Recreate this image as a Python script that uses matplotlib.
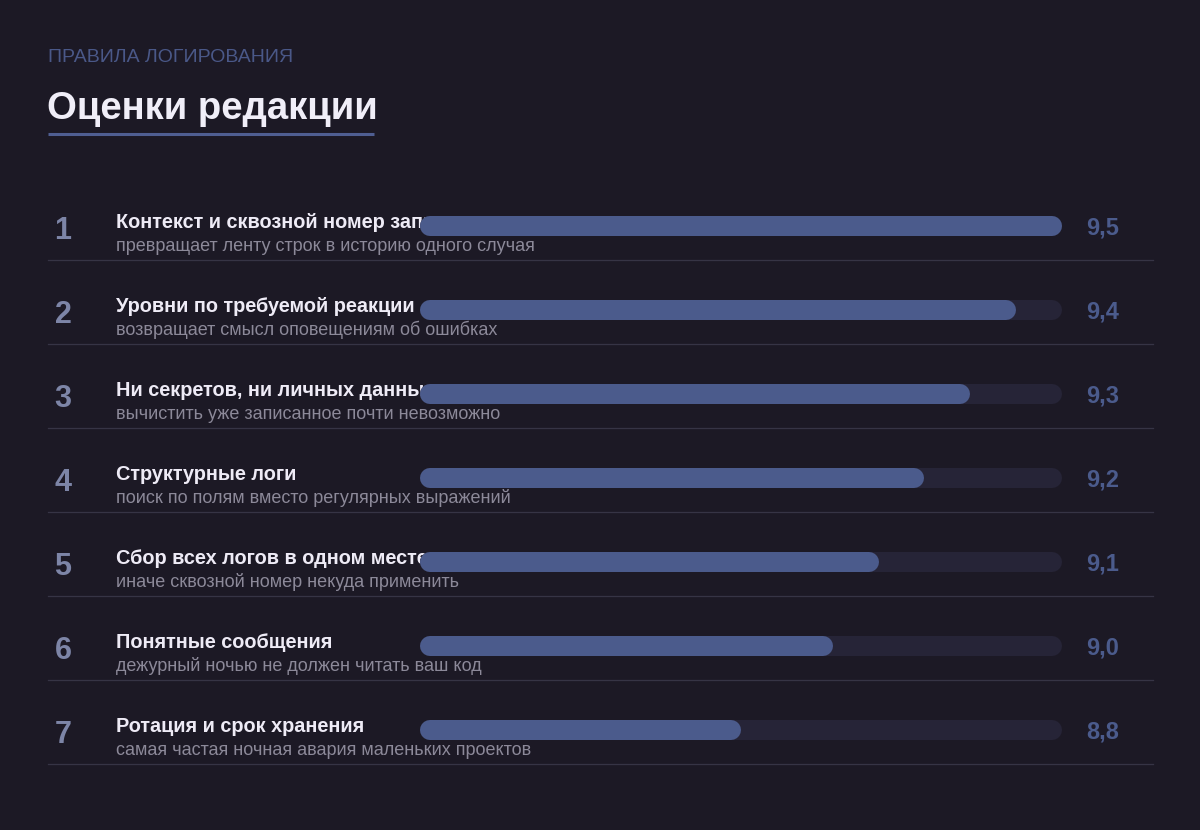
"""Оценки редакции: правила логирования"""
import matplotlib
matplotlib.use('Agg')
import matplotlib.pyplot as plt

plt.rcParams['font.family'] = ['Liberation Sans', 'DejaVu Sans']

# данные
ranks = [1, 2, 3, 4, 5, 6, 7]
titles = [
    "Контекст и сквозной номер записи",
    "Уровни по требуемой реакции",
    "Ни секретов, ни личных данных",
    "Структурные логи",
    "Сбор всех логов в одном месте",
    "Понятные сообщения",
    "Ротация и срок хранения",
]
notes = [
    "превращает ленту строк в историю одного случая",
    "возвращает смысл оповещениям об ошибках",
    "вычистить уже записанное почти невозможно",
    "поиск по полям вместо регулярных выражений",
    "иначе сквозной номер некуда применить",
    "дежурный ночью не должен читать ваш код",
    "самая частая ночная авария маленьких проектов",
]
scores = [9.5, 9.4, 9.3, 9.2, 9.1, 9.0, 8.8]
score_min, score_max = 8.1, 9.5

# цвета
BG = '#1c1925'
ACCENT = '#4b5b8c'
TRACK = '#262437'
RULE = '#363445'

W, H = 1200, 830
fig = plt.figure(figsize=(W / 100, H / 100), dpi=100, facecolor=BG)

# слой с текстом в пиксельных координатах
tx = fig.add_axes([0, 0, 1, 1])
tx.set_xlim(0, W)
tx.set_ylim(H, 0)
tx.axis('off')
tx.set_facecolor(BG)

tx.text(48, 62, "ПРАВИЛА ЛОГИРОВАНИЯ", fontsize=14, color='#4a5888',
        va='baseline', ha='left')
tx.text(47, 119, "Оценки редакции", fontsize=27.5, fontweight='bold',
        color='#f0eef8', va='baseline', ha='left')
tx.plot([48, 374], [134, 134], color='#4f5e92', lw=2.2, solid_capstyle='butt')

row0, step = 226, 84
for i, (r, t, n, s) in enumerate(zip(ranks, titles, notes, scores)):
    yc = row0 + step * i
    tx.text(63, yc + 12.5, str(r), fontsize=22, fontweight='heavy',
            color='#7d85a7', va='baseline', ha='center')
    tx.text(116, yc + 2, t, fontsize=14.3, fontweight='bold',
            color='#eeebf6', va='baseline', ha='left')
    tx.text(116, yc + 25, n, fontsize=13, color='#8c8999',
            va='baseline', ha='left')
    tx.text(1086, yc + 8.5, f"{s:.1f}".replace('.', ','), fontsize=17,
            fontweight='bold', color='#4b5b8c', va='baseline', ha='left')
    tx.plot([48, 1153], [yc + 34, yc + 34], color=RULE, lw=0.9)

# полосы
bx = fig.add_axes([420 / W, 0, 642 / W, 1])
bx.set_xlim(score_min, score_max)
bx.set_ylim(H, 0)
bx.axis('off')
bx.patch.set_alpha(0)

bar_px = 20
cap = (score_max - score_min) * (bar_px / 2) / 642
lw = bar_px * 72 / 100
for i, s in enumerate(scores):
    yc = row0 + step * i
    bx.plot([score_min + cap, score_max - cap], [yc, yc], color=TRACK,
            lw=lw, solid_capstyle='round')
    bx.plot([score_min + cap, s - cap], [yc, yc], color=ACCENT,
            lw=lw, solid_capstyle='round')

fig.savefig('out.png', dpi=100, facecolor=BG)
plt.close(fig)
